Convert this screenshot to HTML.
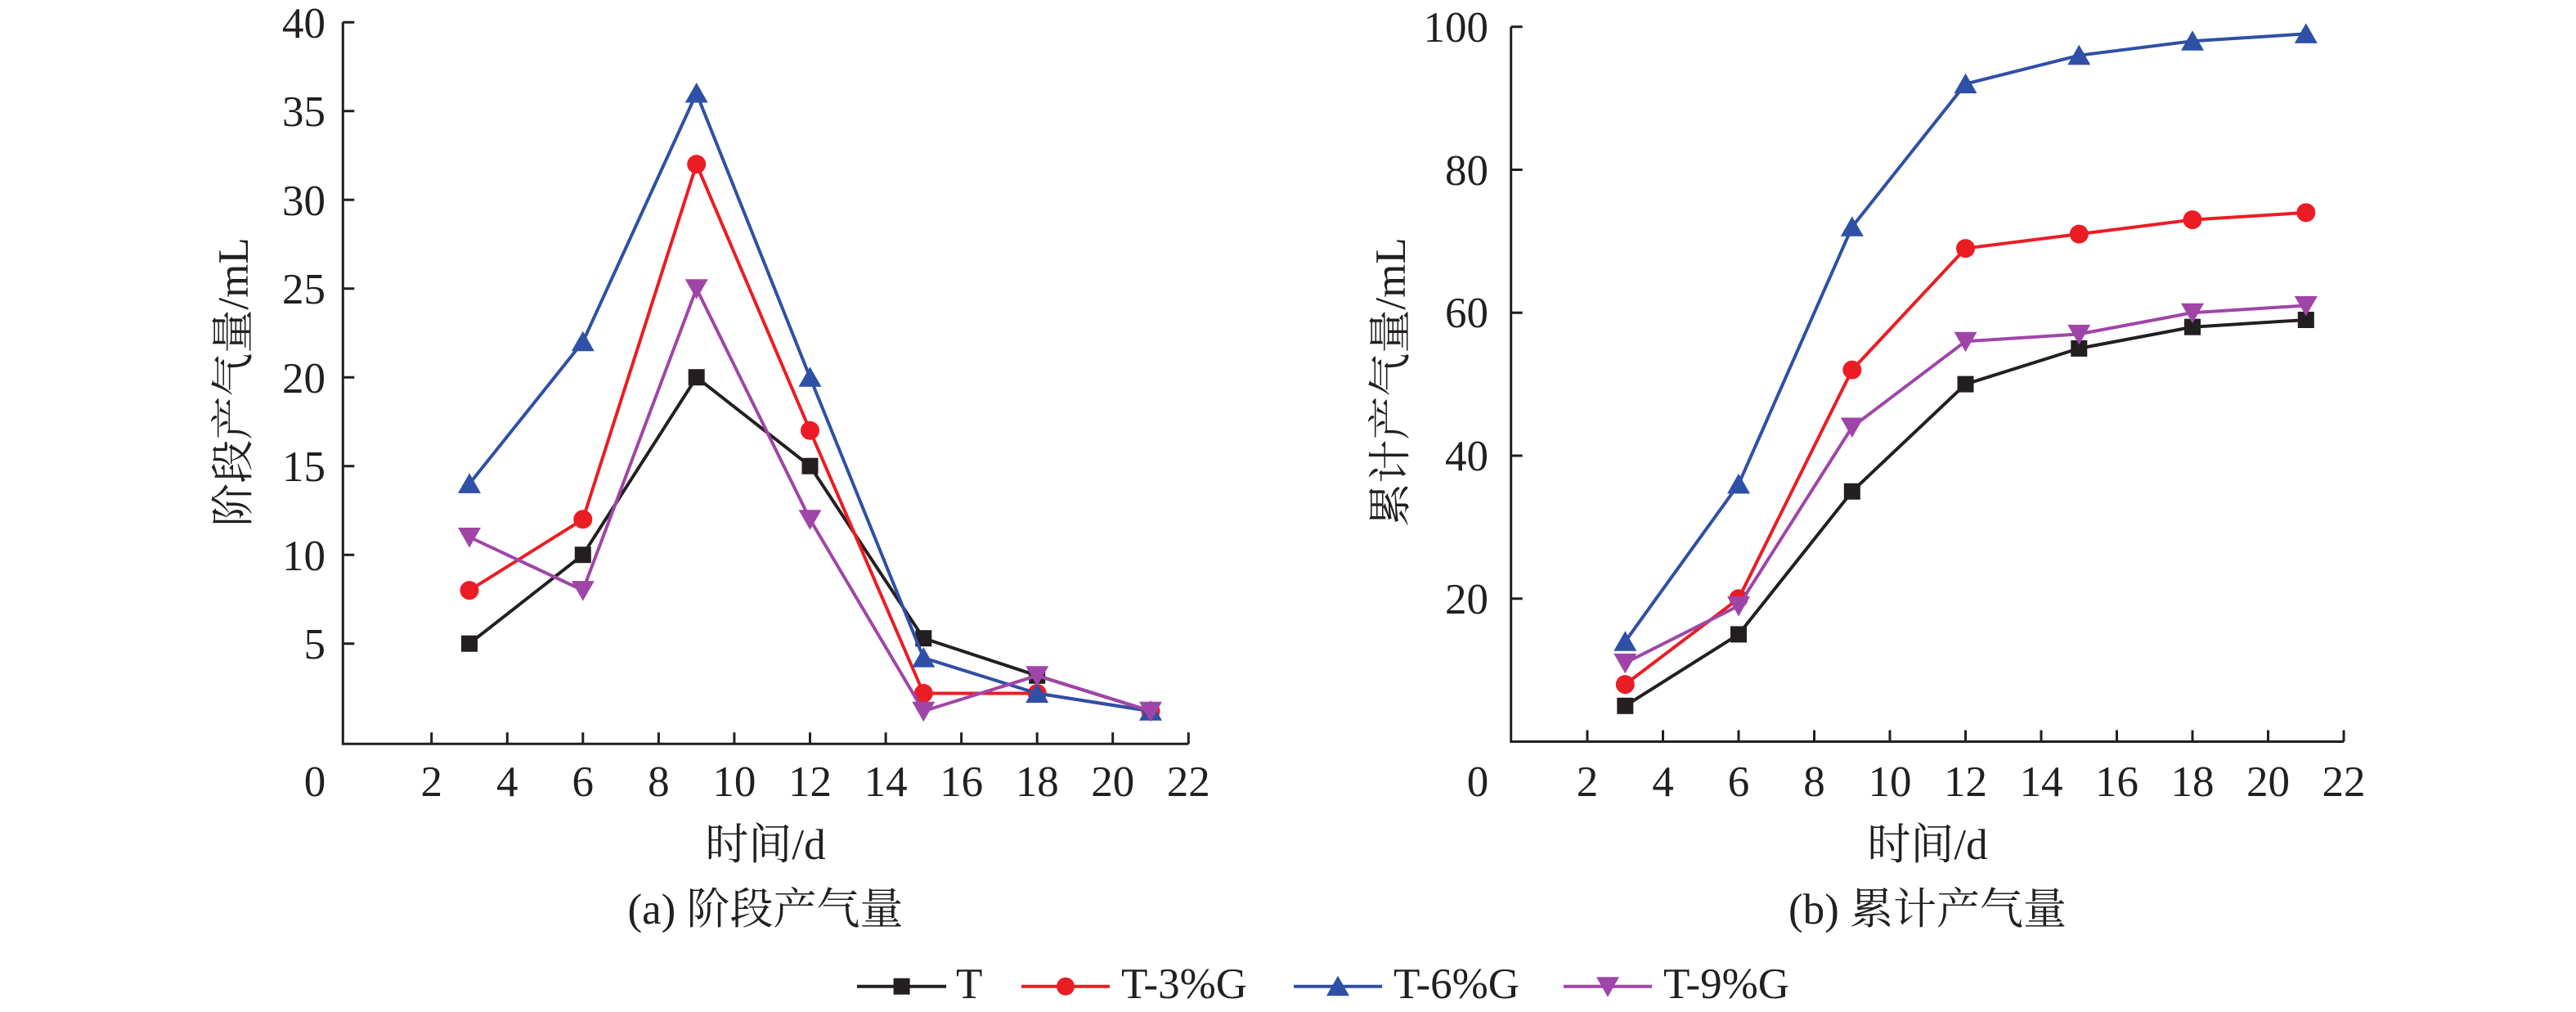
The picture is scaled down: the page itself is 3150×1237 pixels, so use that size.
<!DOCTYPE html>
<html>
<head>
<meta charset="utf-8">
<style>
  html,body{margin:0;padding:0;background:#fff;}
  svg{display:block;}
  text{font-family:"Liberation Serif","Noto Serif CJK SC","Noto Serif CJK",serif;fill:#231f20;}
</style>
</head>
<body>
<svg width="3150" height="1237" viewBox="0 0 3150 1237" xmlns="http://www.w3.org/2000/svg" font-family="'Liberation Serif','Noto Serif CJK SC',serif">
<defs>
  <rect id="sq" x="-10" y="-10" width="20" height="20" fill="#231f20"/>
  <circle id="ci" r="11.5" fill="#ec1c24"/>
  <path id="tu" d="M0,-13L14,11.5H-14Z" fill="#2e50a6"/>
  <path id="td" d="M0,13L14,-11.5H-14Z" fill="#a045a8"/>
</defs>
<rect width="3150" height="1237" fill="#fff"/>

<!-- ============ LEFT CHART ============ -->
<g stroke="#231f20" stroke-width="3" fill="none">
  <path d="M419.3,27.2V909.3H1453.3"/>
  <path d="M419.3,27.2h14M419.3,135.7h14M419.3,244.2h14M419.3,352.7h14M419.3,461.2h14M419.3,569.7h14M419.3,678.2h14M419.3,786.7h14"/>
  <path d="M527.7,909.3v-14M620.3,909.3v-14M712.8,909.3v-14M805.4,909.3v-14M897.9,909.3v-14M990.5,909.3v-14M1083.1,909.3v-14M1175.6,909.3v-14M1268.2,909.3v-14M1360.7,909.3v-14M1453.3,909.3v-14"/>
</g>
<g font-size="53" text-anchor="end" font-family="'Liberation Serif',serif">
  <text x="398" y="46">40</text>
  <text x="398" y="154">35</text>
  <text x="398" y="263">30</text>
  <text x="398" y="371">25</text>
  <text x="398" y="480">20</text>
  <text x="398" y="588">15</text>
  <text x="398" y="697">10</text>
  <text x="398" y="805">5</text>
</g>
<g font-size="53" text-anchor="middle" font-family="'Liberation Serif',serif">
  <text x="385" y="973">0</text>
  <text x="527.7" y="973">2</text>
  <text x="620.3" y="973">4</text>
  <text x="712.8" y="973">6</text>
  <text x="805.4" y="973">8</text>
  <text x="897.9" y="973">10</text>
  <text x="990.5" y="973">12</text>
  <text x="1083.1" y="973">14</text>
  <text x="1175.6" y="973">16</text>
  <text x="1268.2" y="973">18</text>
  <text x="1360.7" y="973">20</text>
  <text x="1453.3" y="973">22</text>
</g>
<text font-size="53" text-anchor="middle" x="936" y="1050" font-family="'Liberation Serif','Noto Serif CJK SC',serif">时间/d</text>
<text font-size="53" text-anchor="middle" x="936" y="1129" font-family="'Liberation Serif','Noto Serif CJK SC',serif">(a) 阶段产气量</text>
<text font-size="53" text-anchor="middle" x="0" y="19" transform="translate(284,467) rotate(-90)" font-family="'Liberation Serif','Noto Serif CJK SC',serif">阶段产气量/mL</text>

<!-- series left -->
<polyline fill="none" stroke-linejoin="round" stroke="#231f20" stroke-width="4" points="574.0,786.7 712.8,678.2 851.7,461.2 990.5,569.7 1129.3,780.2 1268.2,825.8 1407.0,869.2"/>
<use href="#sq" x="574.0" y="786.7"/><use href="#sq" x="712.8" y="678.2"/><use href="#sq" x="851.7" y="461.2"/><use href="#sq" x="990.5" y="569.7"/><use href="#sq" x="1129.3" y="780.2"/><use href="#sq" x="1268.2" y="825.8"/><use href="#sq" x="1407.0" y="869.2"/>
<polyline fill="none" stroke-linejoin="round" stroke="#ec1c24" stroke-width="4" points="574.0,721.6 712.8,634.8 851.7,200.8 990.5,526.3 1129.3,847.5 1268.2,847.5 1407.0,869.2"/>
<use href="#ci" x="574.0" y="721.6"/><use href="#ci" x="712.8" y="634.8"/><use href="#ci" x="851.7" y="200.8"/><use href="#ci" x="990.5" y="526.3"/><use href="#ci" x="1129.3" y="847.5"/><use href="#ci" x="1268.2" y="847.5"/><use href="#ci" x="1407.0" y="869.2"/>
<polyline fill="none" stroke-linejoin="round" stroke="#2e50a6" stroke-width="4" points="574.0,591.4 712.8,417.8 851.7,114.0 990.5,461.2 1129.3,804.1 1268.2,847.5 1407.0,869.2"/>
<use href="#tu" x="574.0" y="591.4"/><use href="#tu" x="712.8" y="417.8"/><use href="#tu" x="851.7" y="114.0"/><use href="#tu" x="990.5" y="461.2"/><use href="#tu" x="1129.3" y="804.1"/><use href="#tu" x="1268.2" y="847.5"/><use href="#tu" x="1407.0" y="869.2"/>
<polyline fill="none" stroke-linejoin="round" stroke="#a045a8" stroke-width="4" points="574.0,656.5 712.8,721.6 851.7,352.7 990.5,634.8 1129.3,869.2 1268.2,825.8 1407.0,869.2"/>
<use href="#td" x="574.0" y="656.5"/><use href="#td" x="712.8" y="721.6"/><use href="#td" x="851.7" y="352.7"/><use href="#td" x="990.5" y="634.8"/><use href="#td" x="1129.3" y="869.2"/><use href="#td" x="1268.2" y="825.8"/><use href="#td" x="1407.0" y="869.2"/>

<!-- ============ RIGHT CHART ============ -->
<g stroke="#231f20" stroke-width="3" fill="none">
  <path d="M1847.7,32.7V906.5H2866"/>
  <path d="M1847.7,32.7h14M1847.7,207.5h14M1847.7,382.2h14M1847.7,557h14M1847.7,731.7h14"/>
  <path d="M1941,906.5v-14M2033.5,906.5v-14M2126,906.5v-14M2218.5,906.5v-14M2311,906.5v-14M2403.5,906.5v-14M2496,906.5v-14M2588.5,906.5v-14M2681,906.5v-14M2773.5,906.5v-14M2866,906.5v-14"/>
</g>
<g font-size="53" text-anchor="end" font-family="'Liberation Serif',serif">
  <text x="1820" y="51">100</text>
  <text x="1820" y="226">80</text>
  <text x="1820" y="400">60</text>
  <text x="1820" y="575">40</text>
  <text x="1820" y="750">20</text>
</g>
<g font-size="53" text-anchor="middle" font-family="'Liberation Serif',serif">
  <text x="1807" y="973">0</text>
  <text x="1941" y="973">2</text>
  <text x="2033.5" y="973">4</text>
  <text x="2126" y="973">6</text>
  <text x="2218.5" y="973">8</text>
  <text x="2311" y="973">10</text>
  <text x="2403.5" y="973">12</text>
  <text x="2496" y="973">14</text>
  <text x="2588.5" y="973">16</text>
  <text x="2681" y="973">18</text>
  <text x="2773.5" y="973">20</text>
  <text x="2866" y="973">22</text>
</g>
<text font-size="53" text-anchor="middle" x="2357" y="1050" font-family="'Liberation Serif','Noto Serif CJK SC',serif">时间/d</text>
<text font-size="53" text-anchor="middle" x="2357" y="1129" font-family="'Liberation Serif','Noto Serif CJK SC',serif">(b) 累计产气量</text>
<text font-size="53" text-anchor="middle" x="0" y="19" transform="translate(1699,467) rotate(-90)" font-family="'Liberation Serif','Noto Serif CJK SC',serif">累计产气量/mL</text>

<polyline fill="none" stroke-linejoin="round" stroke="#231f20" stroke-width="4" points="1987.3,862.8 2126.0,775.4 2264.8,600.7 2403.5,469.6 2542.3,425.9 2681.0,399.7 2819.8,391.0"/>
<use href="#sq" x="1987.3" y="862.8"/><use href="#sq" x="2126.0" y="775.4"/><use href="#sq" x="2264.8" y="600.7"/><use href="#sq" x="2403.5" y="469.6"/><use href="#sq" x="2542.3" y="425.9"/><use href="#sq" x="2681.0" y="399.7"/><use href="#sq" x="2819.8" y="391.0"/>
<polyline fill="none" stroke-linejoin="round" stroke="#ec1c24" stroke-width="4" points="1987.3,836.6 2126.0,731.7 2264.8,452.1 2403.5,303.6 2542.3,286.1 2681.0,268.6 2819.8,259.9"/>
<use href="#ci" x="1987.3" y="836.6"/><use href="#ci" x="2126.0" y="731.7"/><use href="#ci" x="2264.8" y="452.1"/><use href="#ci" x="2403.5" y="303.6"/><use href="#ci" x="2542.3" y="286.1"/><use href="#ci" x="2681.0" y="268.6"/><use href="#ci" x="2819.8" y="259.9"/>
<polyline fill="none" stroke-linejoin="round" stroke="#2e50a6" stroke-width="4" points="1987.3,784.2 2126.0,591.9 2264.8,277.4 2403.5,102.6 2542.3,67.7 2681.0,50.2 2819.8,41.4"/>
<use href="#tu" x="1987.3" y="784.2"/><use href="#tu" x="2126.0" y="591.9"/><use href="#tu" x="2264.8" y="277.4"/><use href="#tu" x="2403.5" y="102.6"/><use href="#tu" x="2542.3" y="67.7"/><use href="#tu" x="2681.0" y="50.2"/><use href="#tu" x="2819.8" y="41.4"/>
<polyline fill="none" stroke-linejoin="round" stroke="#a045a8" stroke-width="4" points="1987.3,810.4 2126.0,740.5 2264.8,522.0 2403.5,417.2 2542.3,408.4 2681.0,382.2 2819.8,373.5"/>
<use href="#td" x="1987.3" y="810.4"/><use href="#td" x="2126.0" y="740.5"/><use href="#td" x="2264.8" y="522.0"/><use href="#td" x="2403.5" y="417.2"/><use href="#td" x="2542.3" y="408.4"/><use href="#td" x="2681.0" y="382.2"/><use href="#td" x="2819.8" y="373.5"/>

<!-- ============ LEGEND ============ -->
<g font-size="53" font-family="'Liberation Serif',serif">
  <line x1="1048" y1="1205.7" x2="1157" y2="1205.7" stroke="#231f20" stroke-width="4"/>
  <rect x="1092.6" y="1195.7" width="20" height="20" fill="#231f20"/>
  <text x="1169" y="1220">T</text>

  <line x1="1249" y1="1205.7" x2="1357" y2="1205.7" stroke="#ec1c24" stroke-width="4"/>
  <circle cx="1303" cy="1205.7" r="11" fill="#ec1c24"/>
  <text x="1371" y="1220">T-3%G</text>

  <line x1="1582" y1="1205.7" x2="1690" y2="1205.7" stroke="#2e50a6" stroke-width="4"/>
  <use href="#tu" x="1636" y="1205.7"/>
  <text x="1704" y="1220">T-6%G</text>

  <line x1="1912" y1="1205.7" x2="2020" y2="1205.7" stroke="#a045a8" stroke-width="4"/>
  <use href="#td" x="1966" y="1205.7"/>
  <text x="2034" y="1220">T-9%G</text>
</g>
</svg>
</body>
</html>
